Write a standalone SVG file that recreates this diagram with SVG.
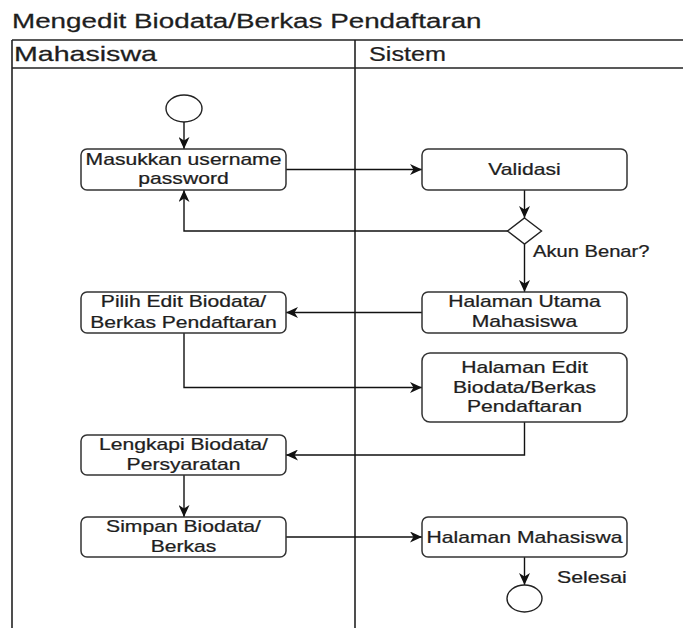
<svg xmlns="http://www.w3.org/2000/svg" width="683" height="628" viewBox="0 0 683 628">
  <style>
    text { font-family: "Liberation Sans", Arial, sans-serif; fill: #1e1e1e; stroke: #1e1e1e; stroke-width: 0.25; }
    .title { font-size: 20px; }
    .lane { font-size: 20px; }
    .lbl { font-size: 16px; text-anchor: middle; }
    .note { font-size: 16px; }
    .pool { stroke: #222; stroke-width: 1.6; fill: none; }
    .box { fill: #fff; stroke: #333; stroke-width: 1.5; }
    .node { fill: #fff; stroke: #222; stroke-width: 1.4; }
    .edge { fill: none; stroke: #111; stroke-width: 1.4; }
  </style>
  <defs>
    <marker id="arrow" viewBox="0 0 12 11" refX="12" refY="5.5" markerWidth="12" markerHeight="11" markerUnits="userSpaceOnUse" orient="auto">
      <path d="M0,0 L12,5.5 L0,11 L3.5,5.5 Z" fill="#111"/>
    </marker>
  </defs>

  <rect width="683" height="628" fill="#fff"/>

  <!-- title -->
  <text class="title" transform="translate(12,28) scale(1.39,1)">Mengedit Biodata/Berkas Pendaftaran</text>

  <!-- swimlane pool -->
  <g id="pool">
    <line class="pool" x1="12" y1="40" x2="683" y2="40"/>
    <line class="pool" x1="12" y1="68" x2="683" y2="68"/>
    <line class="pool" x1="12" y1="40" x2="12" y2="628"/>
    <line class="pool" x1="355" y1="40" x2="355" y2="628"/>
    <text class="lane" transform="translate(14,61) scale(1.43,1)">Mahasiswa</text>
    <text class="lane" transform="translate(369,61) scale(1.26,1)">Sistem</text>
  </g>

  <!-- connectors -->
  <g id="connectors">
    <path class="edge" d="M184,122 V149" marker-end="url(#arrow)"/>
    <path class="edge" d="M286,169.5 H422" marker-end="url(#arrow)"/>
    <path class="edge" d="M524.5,190 V218" marker-end="url(#arrow)"/>
    <path class="edge" d="M508,231 H184 V190" marker-end="url(#arrow)"/>
    <path class="edge" d="M524.5,244 V292" marker-end="url(#arrow)"/>
    <path class="edge" d="M422,312.5 H286" marker-end="url(#arrow)"/>
    <path class="edge" d="M184,333 V387.5 H422" marker-end="url(#arrow)"/>
    <path class="edge" d="M524.5,422 V455 H286" marker-end="url(#arrow)"/>
    <path class="edge" d="M184,475 V517" marker-end="url(#arrow)"/>
    <path class="edge" d="M286,537 H422" marker-end="url(#arrow)"/>
    <path class="edge" d="M524.5,557 V585" marker-end="url(#arrow)"/>
  </g>

  <!-- Mahasiswa lane -->
  <g id="start">
    <ellipse class="node" cx="184" cy="108.5" rx="18" ry="13.5"/>
  </g>
  <g id="masukkan">
    <rect class="box" x="81" y="149" width="205" height="41" rx="6"/>
    <text class="lbl" transform="translate(183.5,165) scale(1.32,1)">Masukkan username</text>
    <text class="lbl" transform="translate(183.5,184) scale(1.32,1)">password</text>
  </g>
  <g id="pilih-edit">
    <rect class="box" x="81" y="292" width="205" height="41" rx="6"/>
    <text class="lbl" transform="translate(183.5,307) scale(1.32,1)">Pilih Edit Biodata/</text>
    <text class="lbl" transform="translate(183.5,327.5) scale(1.32,1)">Berkas Pendaftaran</text>
  </g>
  <g id="lengkapi">
    <rect class="box" x="81" y="435" width="205" height="40" rx="6"/>
    <text class="lbl" transform="translate(183.5,450) scale(1.32,1)">Lengkapi Biodata/</text>
    <text class="lbl" transform="translate(183.5,470) scale(1.32,1)">Persyaratan</text>
  </g>
  <g id="simpan">
    <rect class="box" x="81" y="517" width="205" height="40" rx="6"/>
    <text class="lbl" transform="translate(183.5,532) scale(1.32,1)">Simpan Biodata/</text>
    <text class="lbl" transform="translate(183.5,552) scale(1.32,1)">Berkas</text>
  </g>

  <!-- Sistem lane -->
  <g id="validasi">
    <rect class="box" x="422" y="149" width="205" height="41" rx="6"/>
    <text class="lbl" transform="translate(524.5,175) scale(1.32,1)">Validasi</text>
  </g>
  <g id="akun-benar">
    <path class="node" d="M524.5,218 L541.5,231 L524.5,244 L507.5,231 Z"/>
    <text class="note" transform="translate(533,257) scale(1.26,1)">Akun Benar?</text>
  </g>
  <g id="halaman-utama">
    <rect class="box" x="422" y="292" width="205" height="41" rx="6"/>
    <text class="lbl" transform="translate(524.5,307) scale(1.32,1)">Halaman Utama</text>
    <text class="lbl" transform="translate(524.5,327) scale(1.32,1)">Mahasiswa</text>
  </g>
  <g id="halaman-edit">
    <rect class="box" x="422" y="353" width="205" height="69" rx="8"/>
    <text class="lbl" transform="translate(524.5,373) scale(1.32,1)">Halaman Edit</text>
    <text class="lbl" transform="translate(524.5,392.5) scale(1.32,1)">Biodata/Berkas</text>
    <text class="lbl" transform="translate(524.5,412) scale(1.32,1)">Pendaftaran</text>
  </g>
  <g id="halaman-mahasiswa">
    <rect class="box" x="422" y="517" width="205" height="40" rx="6"/>
    <text class="lbl" transform="translate(524.5,543) scale(1.32,1)">Halaman Mahasiswa</text>
  </g>
  <g id="end">
    <ellipse class="node" cx="524.5" cy="598.5" rx="17.5" ry="13.5"/>
    <text class="note" transform="translate(557,583) scale(1.33,1)">Selesai</text>
  </g>
</svg>
